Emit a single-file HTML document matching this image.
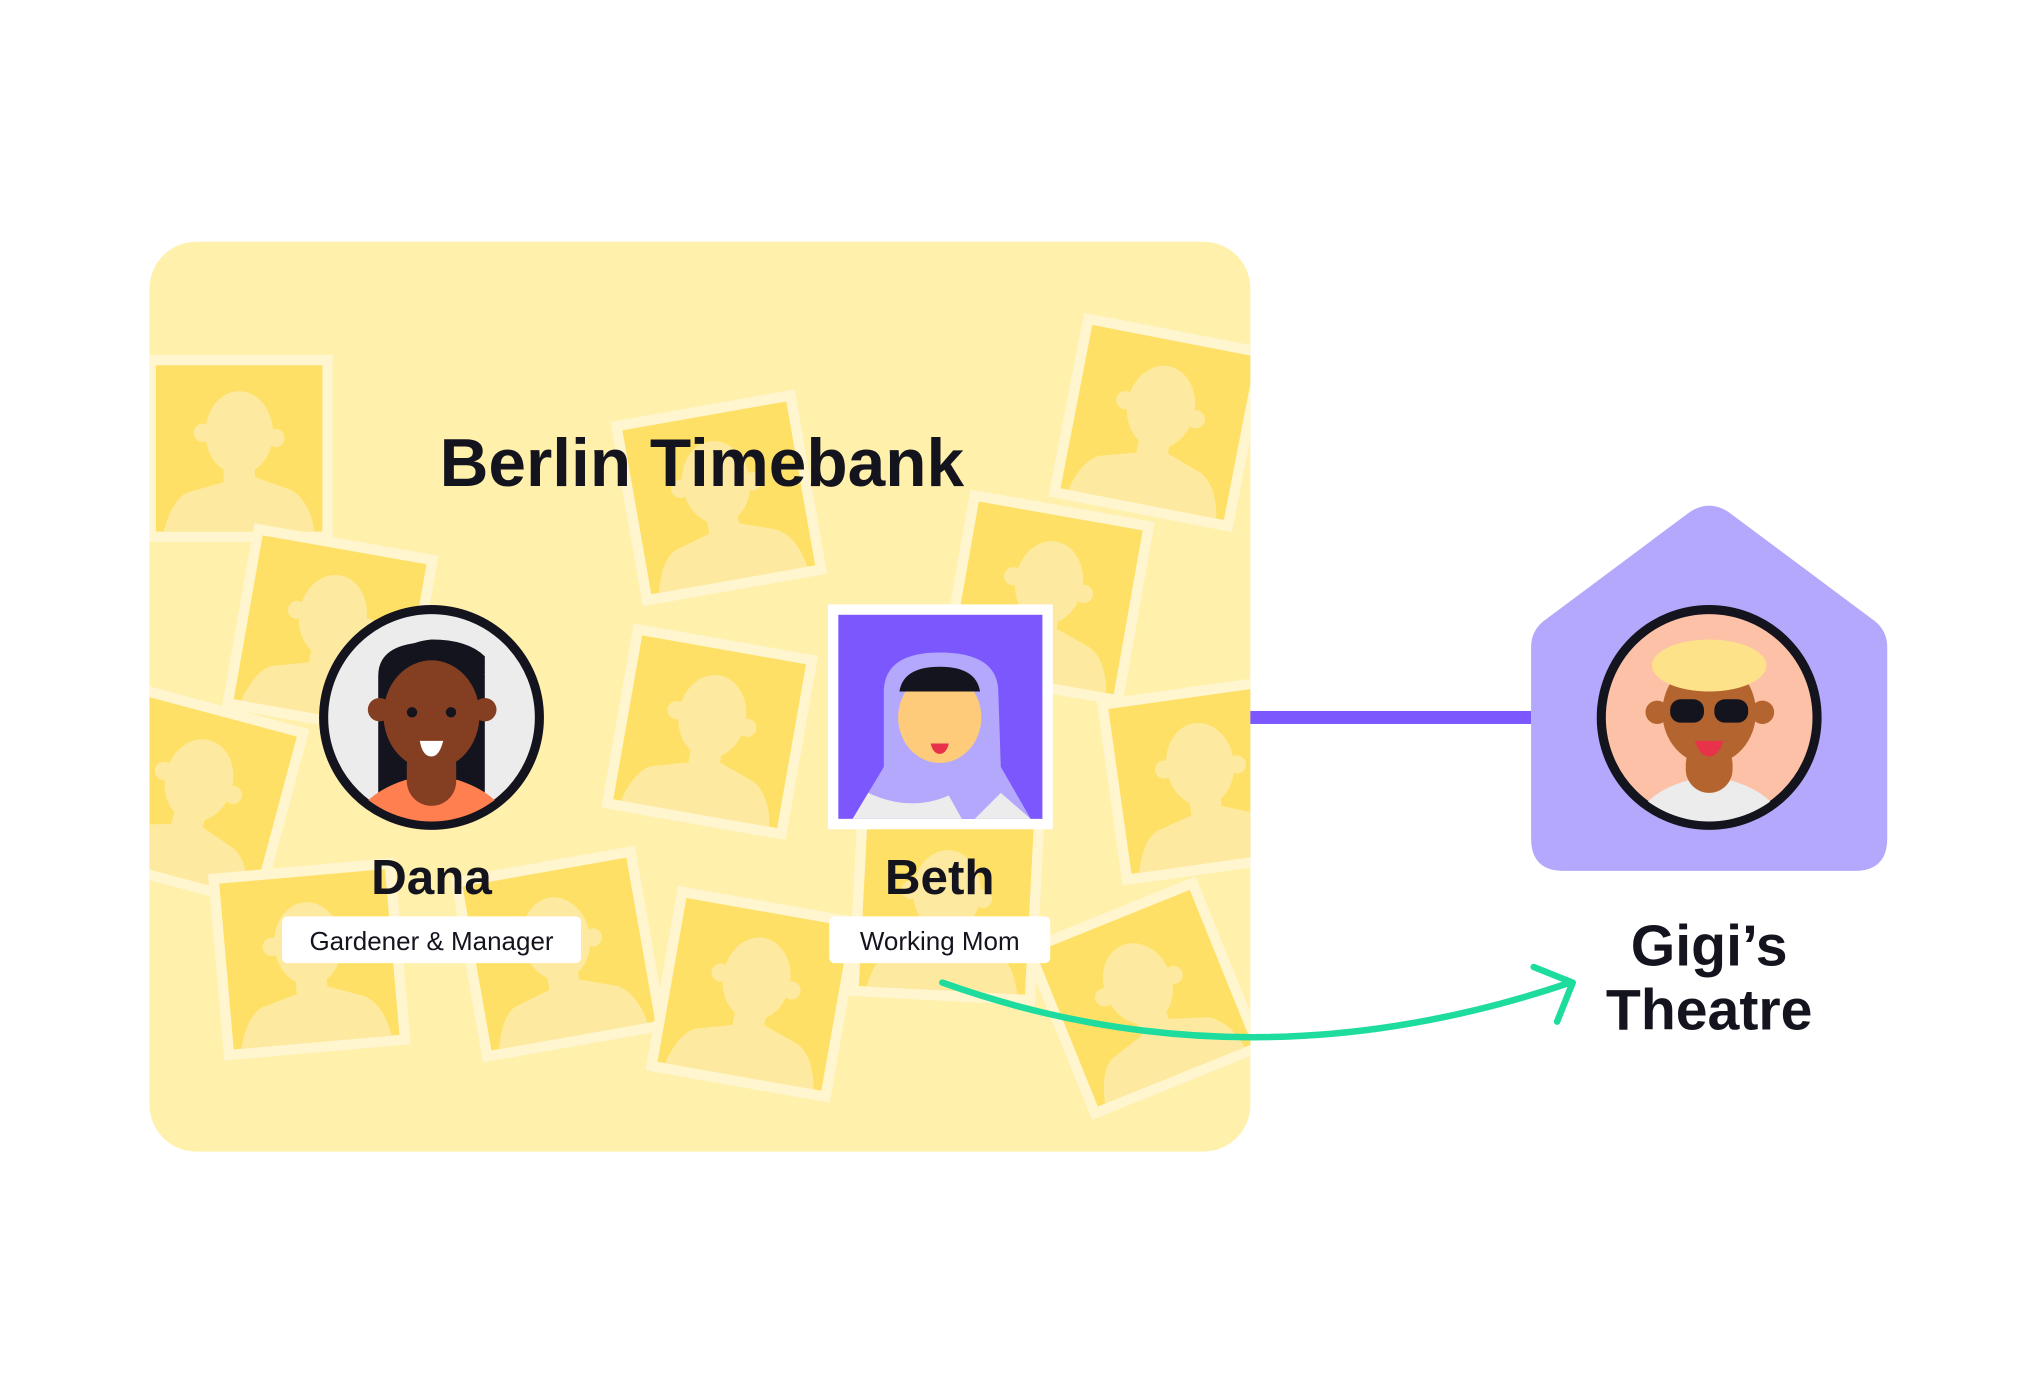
<!DOCTYPE html>
<html><head><meta charset="utf-8"><style>
html,body{margin:0;padding:0;background:#fff;}
svg{display:block;}
text{font-family:"Liberation Sans",sans-serif;}
</style></head><body>
<svg width="2038" height="1394" viewBox="0 0 1568 1072.5" xmlns="http://www.w3.org/2000/svg">
<defs>
<clipPath id="box"><rect x="115" y="186" width="847" height="700" rx="36"/></clipPath>
<g id="card">
<rect x="-72" y="-72" width="144" height="144" fill="#fff5cf"/>
<rect x="-64" y="-64" width="128" height="128" fill="#ffe066"/>
<g fill="#fdeaa0">
<ellipse cx="0" cy="-12" rx="26" ry="32"/>
<circle cx="-28" cy="-12" r="7"/><circle cx="28" cy="-8" r="7"/>
<path d="M-12 14 L-12 26 L-40 34 Q-52 40 -58 64 L58 64 Q54 40 40 32 L12 22 L12 14 Z"/>
</g>
</g>
</defs>
<rect x="115" y="186" width="847" height="700" rx="36" fill="#fff0ab"/>
<g clip-path="url(#box)">
<use href="#card" transform="translate(184,345)"/>
<use href="#card" transform="translate(553,383) rotate(-10)"/>
<use href="#card" transform="translate(891,325) rotate(11)"/>
<use href="#card" transform="translate(254,486) rotate(10)"/>
<use href="#card" transform="translate(805,460) rotate(10)"/>
<use href="#card" transform="translate(150,612) rotate(15)"/>
<use href="#card" transform="translate(546,563) rotate(10)"/>
<use href="#card" transform="translate(925,600) rotate(-8)"/>
<use href="#card" transform="translate(238,738) rotate(-5)"/>
<use href="#card" transform="translate(430,734) rotate(-10)"/>
<use href="#card" transform="translate(580,765) rotate(10)"/>
<use href="#card" transform="translate(728,698) rotate(3)"/>
<use href="#card" transform="translate(880,768) rotate(-22)"/>
</g>
<text x="540" y="374" font-size="52" font-weight="bold" text-anchor="middle" fill="#14141f">Berlin Timebank</text>

<!-- Dana -->
<circle cx="332" cy="552" r="83" fill="#ececec" stroke="#14141f" stroke-width="7"/>
<clipPath id="dc"><circle cx="332" cy="552" r="80"/></clipPath>
<g clip-path="url(#dc)">
<path d="M291 520 Q291 494 332 494 Q373 494 373 520 L373 610 L291 610 Z" fill="#14141f"/>
<path d="M270 640 Q275 612 312 600 L352 600 Q389 612 394 640 Z" fill="#ff7f50"/>
<rect x="313" y="570" width="38" height="50" rx="19" fill="#843f22"/>
<ellipse cx="332" cy="550" rx="37" ry="42" fill="#843f22"/>
<circle cx="292" cy="546" r="9" fill="#843f22"/><circle cx="373" cy="546" r="9" fill="#843f22"/>
<path d="M295 525 Q310 505 332 500 Q345 512 373 518 L373 505 Q360 492 332 492 Q300 495 295 525Z" fill="#14141f"/>
<circle cx="317" cy="548" r="4" fill="#14141f"/><circle cx="347" cy="548" r="4" fill="#14141f"/>
<path d="M323 570 L341 570 Q338 582 332 582 Q325 582 323 570Z" fill="#fff"/>
</g>
<text x="332" y="688" font-size="38" font-weight="bold" text-anchor="middle" fill="#14141f">Dana</text>
<rect x="217" y="705" width="230" height="36" rx="4" fill="#fff"/>
<text x="332" y="731" font-size="20" text-anchor="middle" fill="#14141f">Gardener &amp; Manager</text>

<!-- Beth -->
<rect x="637" y="465" width="173" height="173" fill="#fff"/>
<rect x="645" y="473" width="157" height="157" fill="#7b57fd"/>
<path d="M656 630 L680 590 L680 530 Q682 502 723 502 Q766 502 768 530 L770 590 L793 630 Z" fill="#b4a8fc"/>
<path d="M656 630 L668 610 Q700 625 730 612 L740 630 Z M750 630 L770 610 L793 630Z" fill="#ececec"/>
<ellipse cx="723" cy="552" rx="32" ry="35" fill="#fecb7a"/>
<path d="M692 532 Q695 513 723 513 Q751 513 754 532 Z" fill="#14141f"/>
<path d="M716 572 L730 572 Q728 580 723 580 Q718 580 716 572Z" fill="#e8324a"/>
<text x="723" y="688" font-size="38" font-weight="bold" text-anchor="middle" fill="#14141f">Beth</text>
<rect x="638" y="705" width="170" height="36" rx="4" fill="#fff"/>
<text x="723" y="731" font-size="20" text-anchor="middle" fill="#14141f">Working Mom</text>

<!-- connector -->
<rect x="962" y="547" width="216" height="10" fill="#7b57fd"/>
<path d="M1178 498 Q1178 484 1190 476 L1300 394 Q1315 384 1330 394 L1440 476 Q1452 484 1452 498 L1452 645 Q1452 670 1427 670 L1203 670 Q1178 670 1178 645 Z" fill="#b4a8fc"/>
<circle cx="1315" cy="552" r="83" fill="#fcc1a6" stroke="#14141f" stroke-width="7"/>
<clipPath id="gc"><circle cx="1315" cy="552" r="80"/></clipPath>
<g clip-path="url(#gc)">
<path d="M1255 640 Q1262 610 1300 600 L1330 600 Q1368 610 1375 640Z" fill="#ececec"/>
<rect x="1297" y="570" width="36" height="40" rx="18" fill="#b4642e"/>
<ellipse cx="1315" cy="548" rx="36" ry="40" fill="#b4642e"/>
<circle cx="1275" cy="548" r="9" fill="#b4642e"/><circle cx="1356" cy="548" r="9" fill="#b4642e"/>
<ellipse cx="1315" cy="512" rx="44" ry="20" fill="#fde28a"/>
<rect x="1285" y="538" width="26" height="18" rx="8" fill="#14141f"/><rect x="1319" y="538" width="26" height="18" rx="8" fill="#14141f"/>
<path d="M1304 570 L1326 570 Q1322 582 1315 582 Q1308 582 1304 570Z" fill="#e8324a"/>
</g>
<text x="1315" y="743" font-size="44" font-weight="bold" text-anchor="middle" fill="#14141f">Gigi’s</text>
<text x="1315" y="792" font-size="44" font-weight="bold" text-anchor="middle" fill="#14141f">Theatre</text>

<path d="M725 756 Q960 840 1208 756" fill="none" stroke="#1edc9e" stroke-width="5" stroke-linecap="round"/>
<path d="M1180 744 L1210 756 L1198 786" fill="none" stroke="#1edc9e" stroke-width="5" stroke-linecap="round" stroke-linejoin="round"/>
</svg>
</body></html>
